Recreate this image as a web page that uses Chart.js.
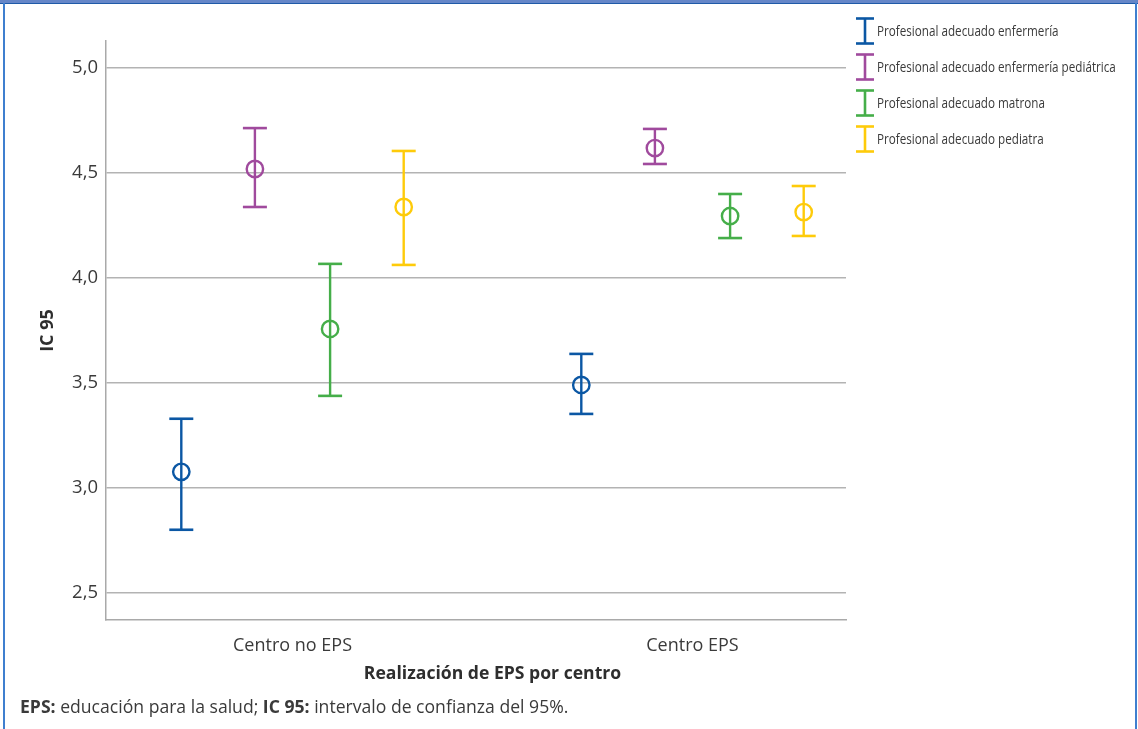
<!DOCTYPE html>
<html>
<head>
<meta charset="utf-8">
<script src="https://cdn.jsdelivr.net/npm/chart.js@4.4.0/dist/chart.umd.min.js"></script>
<style>
  html, body { margin: 0; padding: 0; background: #fff; }
  body { width: 1138px; height: 729px; position: relative; overflow: hidden; font-family: "Open Sans", sans-serif; color: #3a3a3a; }
  #topband { position: absolute; left: 0; top: 0; width: 1138px; height: 3px; background: #6586c8; border-bottom: 1.5px solid #1f5aa8; }
  #lborder { position: absolute; left: 3px; top: 3px; width: 2px; height: 726px; background: #3f7fcf; }
  #rborder { position: absolute; left: 1135px; top: 3px; width: 2px; height: 726px; background: #3f7fcf; }
  #wrap { position: absolute; left: 0; top: 0; width: 1138px; height: 729px; }
  #legend { position: absolute; left: 852px; top: 17px; }
  .item { position: absolute; left: 0; height: 28px; width: 290px; }
  .item svg { position: absolute; left: 3px; top: 0; }
  .item span { position: absolute; left: 25px; top: 4px; font-size: 14.5px; line-height: 20px; white-space: nowrap; transform: scaleX(0.805); transform-origin: 0 50%; color: #3a3a3a; }
  #note { position: absolute; left: 20px; top: 694px; font-size: 17.6px; line-height: 24px; white-space: nowrap; color: #3a3a3a; }
</style>
</head>
<body>
<div id="wrap"><canvas id="c" width="1138" height="729"></canvas></div>
<div id="topband"></div>
<div id="lborder"></div>
<div id="rborder"></div>
<div id="legend"></div>
<div id="note"><b>EPS:</b> educación para la salud; <b>IC 95:</b> intervalo de confianza del 95%.</div>
<script>
// ---- data ----
const categories = ['Centro no EPS', 'Centro EPS'];
const seriesNames = [
  'Profesional adecuado enfermería',
  'Profesional adecuado enfermería pediátrica',
  'Profesional adecuado matrona',
  'Profesional adecuado pediatra'
];
const enfermeriaMean = [3.076, 3.490];
const enfermeriaLow  = [2.800, 3.352];
const enfermeriaHigh = [3.329, 3.638];
const pediatricaMean = [4.519, 4.619];
const pediatricaLow  = [4.338, 4.543];
const pediatricaHigh = [4.714, 4.710];
const matronaMean    = [3.757, 4.295];
const matronaLow     = [3.438, 4.190];
const matronaHigh    = [4.067, 4.400];
const pediatraMean   = [4.338, 4.314];
const pediatraLow    = [4.062, 4.200];
const pediatraHigh   = [4.605, 4.438];
const yTicks = [2.5, 3.0, 3.5, 4.0, 4.5, 5.0];

// ---- styling ----
const colors = ['#0b57a4', '#a04a9d', '#45ae49', '#fecb0a'];
const offsets = [-0.278, -0.094, 0.094, 0.278];
const means = [enfermeriaMean, pediatricaMean, matronaMean, pediatraMean];
const lows = [enfermeriaLow, pediatricaLow, matronaLow, pediatraLow];
const highs = [enfermeriaHigh, pediatricaHigh, matronaHigh, pediatraHigh];

// legend (HTML)
const leg = document.getElementById('legend');
seriesNames.forEach((n, i) => {
  const d = document.createElement('div');
  d.className = 'item';
  d.style.top = (i * 36) + 'px';
  d.innerHTML = '<svg width="20" height="28"><g stroke="' + colors[i] + '" stroke-width="2.6" fill="none">' +
    '<line x1="1" y1="1.5" x2="19" y2="1.5"/><line x1="10" y1="1.5" x2="10" y2="26.5"/><line x1="1" y1="26.5" x2="19" y2="26.5"/></g></svg>' +
    '<span>' + n + '</span>';
  leg.appendChild(d);
});

const datasets = [];
// whiskers
seriesNames.forEach((n, s) => {
  categories.forEach((c, k) => {
    datasets.push({
      type: 'line',
      label: n,
      data: [{x: k + 1 + offsets[s], y: lows[s][k]}, {x: k + 1 + offsets[s], y: highs[s][k]}],
      borderColor: colors[s],
      borderWidth: 2.4,
      pointStyle: 'line',
      pointRadius: 12,
      pointBorderColor: colors[s],
      pointBorderWidth: 2.6,
      pointBackgroundColor: colors[s],
      fill: false,
      order: 2
    });
  });
});
// means
seriesNames.forEach((n, s) => {
  datasets.push({
    type: 'scatter',
    label: n,
    data: categories.map((c, k) => ({x: k + 1 + offsets[s], y: means[s][k]})),
    pointStyle: 'circle',
    pointRadius: 8.2,
    pointBorderWidth: 2.4,
    pointBorderColor: colors[s],
    pointBackgroundColor: 'rgba(0,0,0,0)',
    order: 1
  });
});

const xTitlePlugin = {
  id: 'xTitle',
  afterDraw(chart) {
    const xs = chart.scales.x;
    const ctx = chart.ctx;
    const cx = (xs.getPixelForValue(1) + xs.getPixelForValue(categories.length)) / 2;
    ctx.save();
    ctx.font = 'bold 17.6px "Open Sans"';
    ctx.fillStyle = '#2e2e2e';
    ctx.textAlign = 'center';
    ctx.textBaseline = 'middle';
    ctx.fillText('Realización de EPS por centro', cx, chart.chartArea.bottom + 54);
    ctx.restore();
  }
};

new Chart(document.getElementById('c'), {
  type: 'scatter',
  data: { datasets },
  plugins: [xTitlePlugin],
  options: {
    responsive: false,
    animation: false,
    events: [],
    layout: { padding: { left: 0, top: 41, right: 292, bottom: 0 } },
    plugins: { legend: { display: false }, tooltip: { enabled: false } },
    scales: {
      x: {
        type: 'linear',
        min: 0.53375,
        max: 2.38375,
        afterFit: (s) => { s.height = 109; },
        afterBuildTicks: (s) => { s.ticks = categories.map((c, i) => ({value: i + 1})); },
        grid: { display: false, drawTicks: false },
        border: { display: true, color: '#a9a9a9', width: 1.5 },
        ticks: {
          padding: 15,
          autoSkip: false,
          maxRotation: 0,
          color: '#3a3a3a',
          font: { family: 'Open Sans', size: 18 },
          callback: (v) => categories[Math.round(v) - 1]
        }
      },
      y: {
        min: 2.37,
        max: 5.129,
        afterFit: (s) => { s.width = 106; },
        afterBuildTicks: (s) => { s.ticks = yTicks.map(v => ({value: v})); },
        grid: { color: '#b3b3b3', lineWidth: 1.5, drawTicks: false },
        border: { display: true, color: '#a9a9a9', width: 1.5 },
        ticks: {
          padding: 8,
          color: '#3a3a3a',
          font: { family: 'Open Sans', size: 18.5 },
          callback: (v) => v.toFixed(1).replace('.', ',')
        },
        title: {
          display: true,
          text: 'IC 95',
          color: '#2e2e2e',
          font: { family: 'Open Sans', size: 18, weight: 'bold' },
          padding: { top: 37, bottom: 0 }
        }
      }
    }
  }
});
</script>
</body>
</html>
